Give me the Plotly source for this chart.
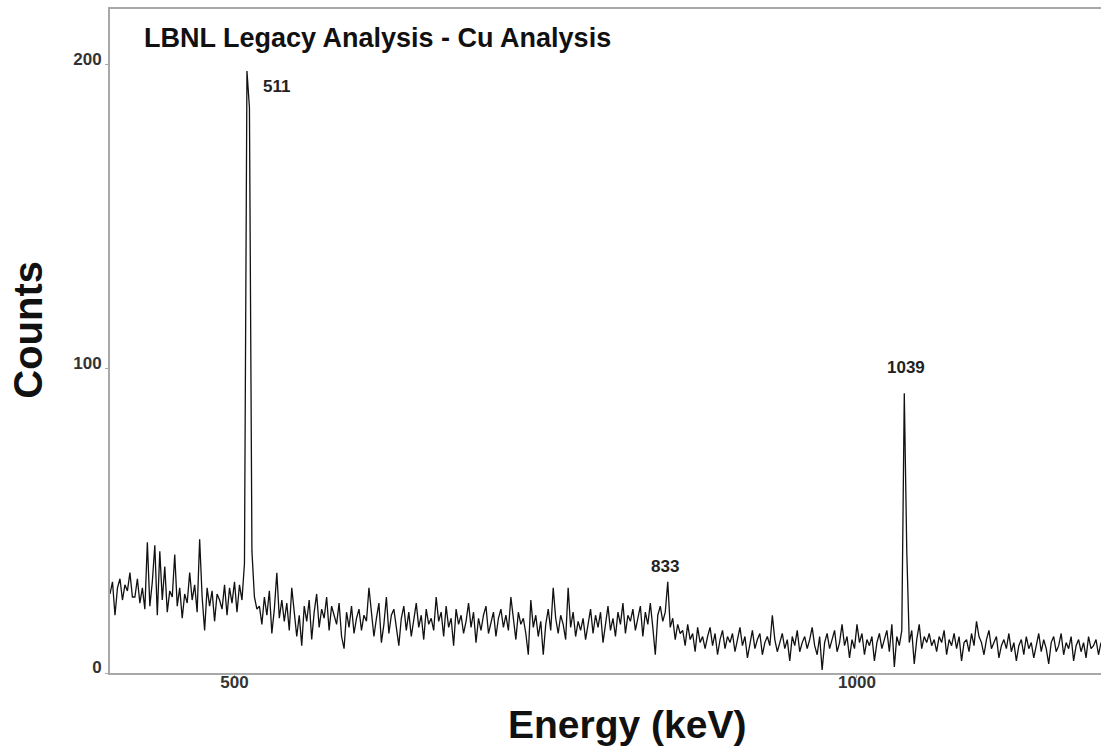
import plotly.graph_objects as go

# Energy channels (keV), 2 keV bins
energy_start = 400
energy_step = 2

counts = [
    26, 30, 19, 28, 31, 24, 29, 27, 33, 25,   # 400-418
    25, 31, 23, 28, 21, 43, 22, 30, 42, 19,   # 420-438
    40, 24, 35, 20, 27, 25, 39, 22, 28, 18,   # 440-458
    26, 23, 33, 24, 29, 20, 44, 25, 14, 28,   # 460-478
    22, 27, 17, 26, 24, 21, 29, 19, 28, 23,   # 480-498
    30, 20, 29, 24, 36, 198, 186, 40, 25, 21, # 500-518
    22, 16, 25, 19, 27, 13, 21, 33, 18, 24,   # 520-538
    17, 23, 14, 28, 20, 12, 19, 9, 22, 17,    # 540-558
    24, 11, 20, 26, 15, 21, 18, 25, 14, 22,   # 560-578
    19, 16, 23, 12, 8, 20, 15, 22, 13, 18,    # 580-598
    21, 14, 19, 17, 28, 20, 12, 18, 23, 10,   # 600-618
    16, 25, 13, 19, 21, 15, 9, 18, 22, 14,    # 620-638
    20, 12, 17, 23, 15, 19, 11, 21, 16, 18,   # 640-658
    14, 25, 17, 20, 12, 22, 15, 18, 9, 21,    # 660-678
    16, 19, 13, 17, 23, 15, 20, 10, 18, 14,   # 680-698
    19, 22, 13, 17, 20, 12, 18, 21, 15, 19,   # 700-718
    14, 25, 17, 11, 20, 16, 18, 13, 6, 24,    # 720-738
    15, 19, 12, 17, 6, 16, 21, 14, 28, 18,    # 740-758
    13, 19, 16, 11, 28, 15, 20, 12, 17, 14,   # 760-778
    18, 11, 16, 21, 13, 19, 15, 20, 10, 17,   # 780-798
    22, 14, 18, 12, 20, 16, 23, 13, 19, 17,   # 800-818
    21, 14, 18, 22, 12, 20, 16, 23, 15, 6,    # 820-838
    19, 22, 17, 20, 30, 15, 18, 11, 16, 13,   # 840-858
    14, 9, 16, 11, 13, 7, 15, 10, 12, 8,      # 860-878
    12, 15, 9, 13, 6, 11, 14, 8, 12, 10,      # 880-898
    13, 7, 11, 15, 9, 12, 5, 10, 14, 8,       # 900-918
    11, 13, 6, 10, 12, 9, 19, 11, 7, 10,      # 920-938
    13, 8, 11, 4, 12, 9, 14, 7, 10, 12,       # 940-958
    8, 11, 15, 9, 6, 12, 1, 10, 13, 8,        # 960-978
    11, 14, 7, 10, 16, 9, 12, 5, 11, 8,       # 980-998
    16, 10, 13, 6, 11, 9, 12, 4, 10, 13,      # 1000-1018
    8, 11, 14, 7, 16, 2, 12, 9, 14, 92,       # 1020-1038
    40, 10, 14, 3, 11, 16, 8, 12, 10, 13,     # 1040-1058
    9, 11, 7, 12, 10, 14, 6, 11, 9, 13,       # 1060-1078
    8, 12, 4, 10, 11, 7, 13, 9, 17, 12,       # 1080-1098
    10, 6, 11, 14, 8, 10, 12, 5, 9, 11,       # 1100-1118
    8, 13, 7, 10, 4, 9, 11, 6, 12, 8,         # 1120-1138
    10, 5, 9, 13, 7, 11, 8, 3, 10, 12,        # 1140-1158
    7, 9, 13, 6, 10, 8, 12, 4, 9, 11,         # 1160-1178
    7, 10, 5, 12, 8, 9, 11, 6, 10, 8,         # 1180-1198
]
energies = [energy_start + energy_step * i for i in range(len(counts))]

x_ticks = [500, 1000]
y_ticks = [0, 100, 200]

peak_labels = ["511", "833", "1039"]
peak_label_x = [521, 846, 1039]
peak_label_y = [193, 35, 100.5]

title_text = "LBNL Legacy Analysis - Cu Analysis"
x_title = "Energy (keV)"
y_title = "Counts"

FONT = "Liberation Sans, Arial, sans-serif"

fig = go.Figure()
fig.add_trace(go.Scatter(
    x=energies, y=counts, mode="lines",
    line=dict(color="#111111", width=1.3),
    showlegend=False, hoverinfo="x+y",
))

annotations = [
    dict(text=f"<b>{title_text}</b>", xref="paper", yref="paper",
         x=0.0323, y=0.957, xanchor="left", yanchor="middle", showarrow=False,
         font=dict(family=FONT, size=27, color="#111")),
    dict(text=f"<b>{x_title}</b>", xref="paper", yref="paper",
         x=0.5217, y=-0.077, xanchor="center", yanchor="middle", showarrow=False,
         font=dict(family=FONT, size=39, color="#111")),
    dict(text=f"<b>{y_title}</b>", xref="paper", yref="paper",
         x=-0.083, y=0.5166, xanchor="center", yanchor="middle", showarrow=False,
         textangle=-90, font=dict(family=FONT, size=40, color="#111")),
]
for lab, lx, ly in zip(peak_labels, peak_label_x, peak_label_y):
    annotations.append(dict(
        text=f"<b>{lab}</b>", x=lx, y=ly, xref="x", yref="y",
        xanchor="left" if lab == "511" else "center", yanchor="middle",
        showarrow=False, font=dict(family=FONT, size=17, color="#222")))

fig.update_layout(
    width=1101, height=754,
    margin=dict(l=110, r=0, t=9, b=81),
    paper_bgcolor="white", plot_bgcolor="white",
    annotations=annotations,
    font=dict(family=FONT),
)
fig.update_xaxes(
    range=[400, 1196], tickvals=x_ticks, ticktext=[str(v) for v in x_ticks],
    showgrid=False, zeroline=False, showline=True, linecolor="#a8a8a8",
    linewidth=2, mirror=True, ticks="outside", ticklen=3, tickcolor="#a8a8a8",
    ticklabelstandoff=-10,
    tickfont=dict(family=FONT, size=17, color="#333", weight="bold"),
)
fig.update_yaxes(
    range=[0, 218.4], tickvals=y_ticks, ticktext=[str(v) for v in y_ticks],
    showgrid=False, zeroline=False, showline=True, linecolor="#a8a8a8",
    linewidth=2, ticks="outside", ticklen=3, tickcolor="#a8a8a8",
    ticklabelshift=-6,
    tickfont=dict(family=FONT, size=17, color="#333", weight="bold"),
)

fig.write_html("out.html")
